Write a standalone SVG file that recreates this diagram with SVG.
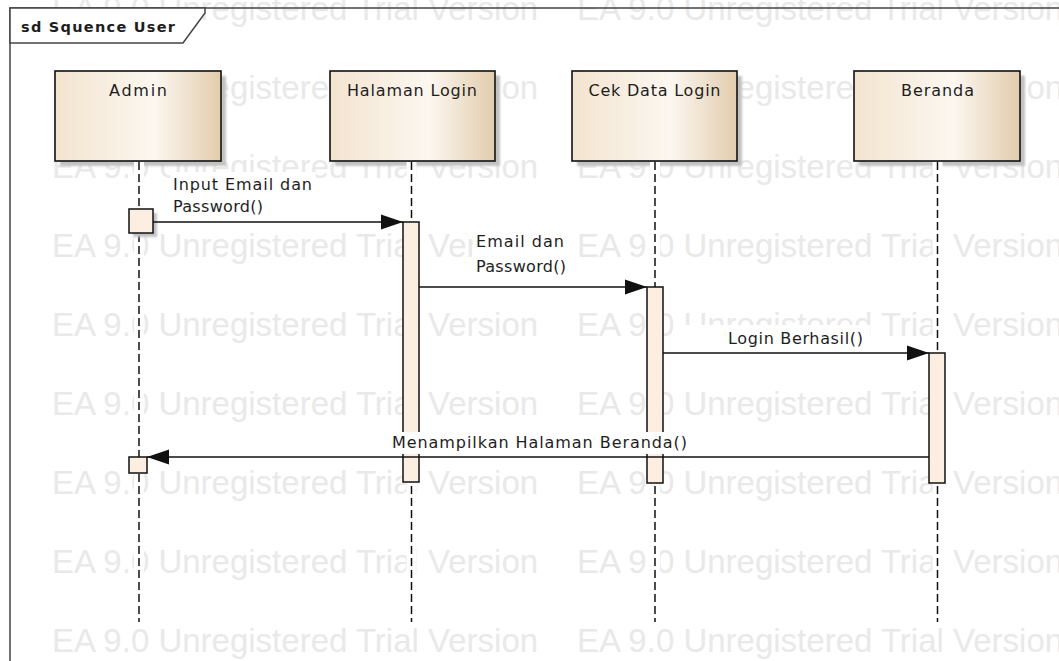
<svg xmlns="http://www.w3.org/2000/svg" width="1059" height="661" viewBox="0 0 1059 661">
  <style>
    .wm { font-family: "Liberation Sans", Arial, sans-serif; font-size: 33px; fill: #e9e9e9; }
    .lbl { font-family: "DejaVu Sans", Verdana, sans-serif; font-size: 16px; fill: #1e1e1e; }
    .title { font-family: "DejaVu Sans", Verdana, sans-serif; font-size: 14.5px; font-weight: bold; fill: #1e1e1e; }
    .box { fill: url(#lifelineFill); stroke: #111; stroke-width: 1.6; }
    .shadow { fill: #c2c2c2; filter: url(#soft); }
    .act { fill: #fcefe1; stroke: #111; stroke-width: 1.5; }
    .life { stroke: #111; stroke-width: 1.5; stroke-dasharray: 8 4; fill: none; }
    .lifebg { stroke: #fff; stroke-width: 10; fill: none; }
    .msg { stroke: #111; stroke-width: 1.4; fill: none; marker-end: url(#arrow); }
    .lblbg { fill: #fff; }
  </style>
  <defs>
    <linearGradient id="lifelineFill" x1="0" y1="0" x2="1" y2="0">
      <stop offset="0" stop-color="#f3e4cf"/>
      <stop offset="0.6" stop-color="#fcf7f0"/>
      <stop offset="1" stop-color="#e2ccad"/>
    </linearGradient>
    <filter id="soft" x="-10%" y="-10%" width="120%" height="120%">
      <feGaussianBlur stdDeviation="1"/>
    </filter>
    <marker id="arrow" markerWidth="22" markerHeight="16" refX="22" refY="8" orient="auto" markerUnits="userSpaceOnUse">
      <path d="M0,0.5 L22,8 L0,15.5 Z" fill="#111"/>
    </marker>
  </defs>

  <rect width="1059" height="661" fill="#fff"/>

  <!-- evaluation watermark rows -->
  <g id="watermark">
    <text class="wm" x="52" y="20">EA 9.0 Unregistered Trial Version</text>
    <text class="wm" x="577" y="20">EA 9.0 Unregistered Trial Version</text>
    <text class="wm" x="52" y="99">EA 9.0 Unregistered Trial Version</text>
    <text class="wm" x="577" y="99">EA 9.0 Unregistered Trial Version</text>
    <text class="wm" x="52" y="178">EA 9.0 Unregistered Trial Version</text>
    <text class="wm" x="577" y="178">EA 9.0 Unregistered Trial Version</text>
    <text class="wm" x="52" y="257">EA 9.0 Unregistered Trial Version</text>
    <text class="wm" x="577" y="257">EA 9.0 Unregistered Trial Version</text>
    <text class="wm" x="52" y="336">EA 9.0 Unregistered Trial Version</text>
    <text class="wm" x="577" y="336">EA 9.0 Unregistered Trial Version</text>
    <text class="wm" x="52" y="415">EA 9.0 Unregistered Trial Version</text>
    <text class="wm" x="577" y="415">EA 9.0 Unregistered Trial Version</text>
    <text class="wm" x="52" y="494">EA 9.0 Unregistered Trial Version</text>
    <text class="wm" x="577" y="494">EA 9.0 Unregistered Trial Version</text>
    <text class="wm" x="52" y="573">EA 9.0 Unregistered Trial Version</text>
    <text class="wm" x="577" y="573">EA 9.0 Unregistered Trial Version</text>
    <text class="wm" x="52" y="652">EA 9.0 Unregistered Trial Version</text>
    <text class="wm" x="577" y="652">EA 9.0 Unregistered Trial Version</text>
  </g>

  <!-- sequence diagram frame -->
  <g id="frame">
    <rect x="10" y="8" width="1100" height="700" fill="none" stroke="#444" stroke-width="1.5"/>
    <path d="M10,8 H205 V13 L183,43 H10 Z" fill="#fff" stroke="#444" stroke-width="1.5"/>
    <text class="title" x="21" y="32" textLength="154" lengthAdjust="spacing">sd Squence User</text>
  </g>

  <!-- lifelines -->
  <g id="admin">
    <rect class="shadow" x="60" y="76" width="166" height="90"/>
    <rect class="box" x="55" y="71" width="166" height="90"/>
    <text class="lbl" x="138" y="96" text-anchor="middle" textLength="58" lengthAdjust="spacing">Admin</text>
    <line class="lifebg" x1="139" y1="162" x2="139" y2="622"/>
    <line class="life" x1="139" y1="162" x2="139" y2="622"/>
    <rect class="shadow" x="133" y="213" width="24" height="24"/>
    <rect class="act" x="129" y="209" width="24" height="24"/>
    <rect class="act" x="129" y="457" width="18" height="16"/>
  </g>

  <g id="halaman-login">
    <rect class="shadow" x="335" y="76" width="165" height="90"/>
    <rect class="box" x="330" y="71" width="165" height="90"/>
    <text class="lbl" x="412" y="96" text-anchor="middle" textLength="130" lengthAdjust="spacing">Halaman Login</text>
    <line class="lifebg" x1="411.5" y1="162" x2="411.5" y2="622"/>
    <line class="life" x1="411.5" y1="162" x2="411.5" y2="622"/>
    <rect class="act" x="403" y="222" width="16" height="260"/>
  </g>

  <g id="cek-data-login">
    <rect class="shadow" x="577" y="76" width="165" height="90"/>
    <rect class="box" x="572" y="71" width="165" height="90"/>
    <text class="lbl" x="654.5" y="96" text-anchor="middle" textLength="132" lengthAdjust="spacing">Cek Data Login</text>
    <line class="lifebg" x1="655" y1="162" x2="655" y2="622"/>
    <line class="life" x1="655" y1="162" x2="655" y2="622"/>
    <rect class="act" x="647" y="287" width="16" height="196"/>
  </g>

  <g id="beranda">
    <rect class="shadow" x="859" y="76" width="166" height="90"/>
    <rect class="box" x="854" y="71" width="166" height="90"/>
    <text class="lbl" x="937.5" y="96" text-anchor="middle" textLength="73" lengthAdjust="spacing">Beranda</text>
    <line class="lifebg" x1="937.5" y1="162" x2="937.5" y2="622"/>
    <line class="life" x1="937.5" y1="162" x2="937.5" y2="622"/>
    <rect class="act" x="929" y="353" width="16" height="130"/>
  </g>

  <!-- messages -->
  <g id="connectors">
    <rect class="lblbg" x="170" y="172" width="146" height="45"/>
    <text class="lbl" x="173" y="190" textLength="139" lengthAdjust="spacing">Input Email dan</text>
    <text class="lbl" x="173" y="212" textLength="90" lengthAdjust="spacing">Password()</text>
    <line class="msg" x1="153" y1="222" x2="403" y2="222"/>

    <rect class="lblbg" x="473" y="232" width="96" height="45"/>
    <text class="lbl" x="476" y="247" textLength="88" lengthAdjust="spacing">Email dan</text>
    <text class="lbl" x="476" y="272" textLength="90" lengthAdjust="spacing">Password()</text>
    <line class="msg" x1="419" y1="287" x2="647" y2="287"/>

    <rect class="lblbg" x="686" y="325" width="184" height="23"/>
    <text class="lbl" x="728" y="344" textLength="135" lengthAdjust="spacing">Login Berhasil()</text>
    <line class="msg" x1="663" y1="353" x2="929" y2="353"/>

    <rect class="lblbg" x="388" y="432" width="304" height="22"/>
    <text class="lbl" x="392" y="448" textLength="295" lengthAdjust="spacing">Menampilkan Halaman Beranda()</text>
    <line class="msg" x1="929" y1="457" x2="147" y2="457"/>
  </g>
</svg>
